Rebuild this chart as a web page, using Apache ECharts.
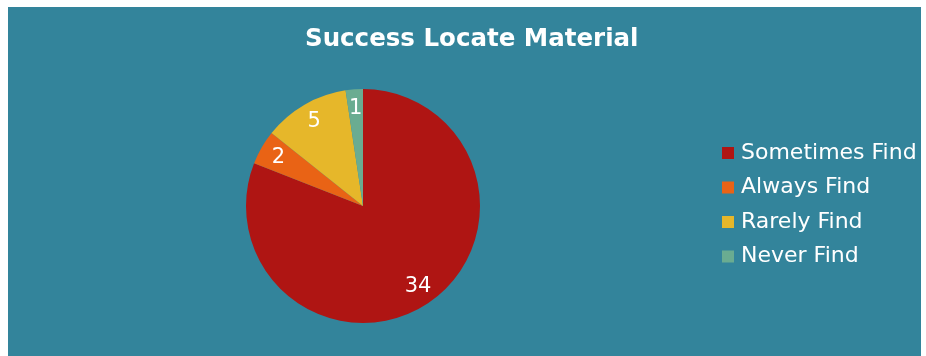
<!DOCTYPE html>
<html>
<head>
<meta charset="utf-8">
<script src="https://cdn.jsdelivr.net/npm/echarts@6/dist/echarts.min.js"></script>
<style>
  html, body { margin: 0; padding: 0; background: #ffffff; }
  #chart { width: 926px; height: 356px; }
</style>
</head>
<body>
<div id="chart"></div>
<script>
// Survey answers: how often people succeed in locating material
const categories = ['Sometimes Find', 'Always Find', 'Rarely Find', 'Never Find'];
const counts = [34, 2, 5, 1];
const sliceColors = ['#AF1513', '#E96315', '#E6B72A', '#6AAC91'];

const FONT = '"DejaVu Sans", "Open Sans", sans-serif';
const CX = 363, CY = 206, R = 117;

const pieData = categories.map((name, i) => ({
  name: name,
  value: counts[i],
  itemStyle: { color: sliceColors[i] }
}));

const chart = echarts.init(document.getElementById('chart'), null, { renderer: 'canvas' });

chart.setOption({
  backgroundColor: '#ffffff',
  animation: false,
  graphic: [{
    type: 'rect',
    left: 8, top: 7,
    shape: { width: 913, height: 349 },
    style: { fill: '#33849B' },
    z: -10
  }],
  title: {
    text: 'Success Locate Material',
    left: 300,
    top: 22,
    textStyle: { color: '#ffffff', fontFamily: FONT, fontWeight: 'bold', fontSize: 24.5 }
  },
  legend: {
    orient: 'vertical',
    left: 722,
    top: 141,
    padding: 0,
    icon: 'rect',
    itemWidth: 12,
    itemHeight: 12,
    itemGap: 10.5,
    data: categories,
    textStyle: { color: '#ffffff', fontFamily: FONT, fontSize: 22, lineHeight: 24, padding: [0, 0, 0, 2] }
  },
  series: [
    {
      // the visible pie, slices clockwise from 12 o'clock
      type: 'pie',
      center: [CX, CY],
      radius: [0, R],
      startAngle: 90,
      clockwise: true,
      silent: true,
      label: { show: false },
      labelLine: { show: false },
      data: pieData
    },
    {
      // transparent twin used only to place the value labels near the rim
      type: 'pie',
      center: [CX, CY],
      radius: [0, R * 1.62],
      startAngle: 90,
      clockwise: true,
      silent: true,
      z: 3,
      itemStyle: { color: 'rgba(0,0,0,0)' },
      label: {
        show: true,
        position: 'inside',
        formatter: '{c}',
        color: '#ffffff',
        fontFamily: FONT,
        fontSize: 21
      },
      labelLine: { show: false },
      data: categories.map((name, i) => ({ name: name, value: counts[i] }))
    }
  ]
});
</script>
</body>
</html>
